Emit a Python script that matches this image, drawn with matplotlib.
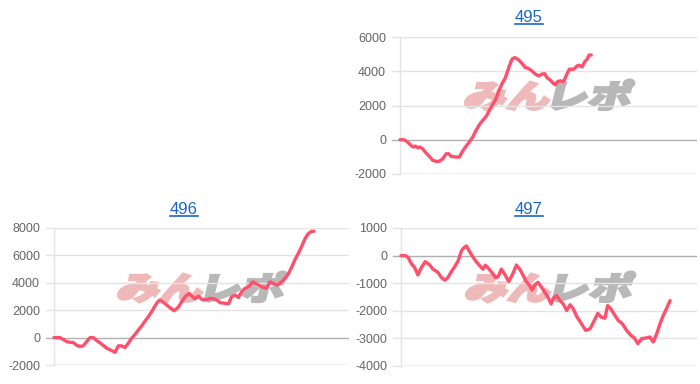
import matplotlib
matplotlib.use("Agg")
import matplotlib.pyplot as plt
from matplotlib.textpath import TextPath
from matplotlib.font_manager import FontProperties
from matplotlib.patches import PathPatch
from matplotlib.transforms import Affine2D, IdentityTransform
from matplotlib.lines import Line2D

# ---------------- data ----------------
titles = ["495", "496", "497"]

x_495 = [0.0, 1.4, 2.6, 3.7, 4.5, 5.2, 6.0, 6.7, 7.6, 8.8, 9.9, 11.0, 12.1, 13.2, 14.4,
         15.5, 16.4, 17.2, 18.9, 20.0, 21.1, 22.2, 23.3, 24.5, 25.6, 26.7, 27.8, 29.0,
         30.1, 31.2, 32.3, 33.2, 34.3, 35.5, 36.6, 37.7, 38.6, 39.7, 40.8, 42.2, 43.3,
         44.4, 45.6, 46.7, 47.8, 48.7, 49.5, 50.6, 51.7, 52.3, 53.1, 54.0, 55.1, 56.2,
         57.0, 58.5, 59.6, 60.4, 61.3, 62.2, 63.0, 63.7, 64.4]
y_495 = [0, 0, -136, -330, -430, -370, -470, -430, -520, -780, -970, -1200, -1260, -1260,
         -1110, -820, -820, -970, -1010, -1010, -660, -390, -140, 160, 540, 870, 1120,
         1360, 1710, 2060, 2390, 2820, 3250, 3630, 4210, 4700, 4800, 4700, 4510, 4220,
         4160, 4020, 3830, 3730, 3830, 3860, 3630, 3480, 3280, 3210, 3400, 3440, 3400,
         3830, 4120, 4120, 4310, 4350, 4250, 4560, 4700, 4950, 4950]

x_496 = [0.0, 2.0, 3.2, 4.3, 5.4, 6.5, 7.7, 8.8, 9.9, 11.1, 12.2, 13.3, 14.5, 16.2, 17.9,
         19.6, 20.7, 21.8, 22.9, 24.1, 25.2, 26.3, 27.5, 28.6, 29.7, 30.8, 32.0, 33.1,
         34.2, 35.2, 35.9, 37.1, 38.2, 39.3, 40.7, 42.1, 43.3, 44.4, 45.0, 45.9, 46.7,
         47.8, 48.9, 50.1, 51.2, 52.9, 54.0, 55.2, 56.3, 58.0, 59.1, 60.2, 61.4, 62.5,
         63.6, 64.7, 65.9, 67.4, 68.7, 70.4, 71.9, 73.2, 74.3, 75.7, 77.2, 78.3, 79.4,
         80.6, 81.7, 82.8, 84.0, 85.1, 86.2, 87.4, 88.1]
y_496 = [0, 0, -145, -290, -340, -360, -560, -650, -600, -290, 0, 0, -220, -480, -780,
         -950, -1070, -600, -600, -730, -410, -50, 240, 560, 850, 1190, 1530, 1890, 2300,
         2620, 2740, 2570, 2380, 2180, 1960, 2210, 2620, 2980, 3100, 3220, 3030, 2840,
         3030, 2790, 2740, 2860, 2840, 2740, 2550, 2500, 2450, 2980, 3100, 2930, 3350,
         3590, 3710, 4070, 3900, 3710, 3590, 4070, 3950, 3830, 4070, 4320, 4630, 5160,
         5700, 6140, 6670, 7230, 7590, 7760, 7760]

x_497 = [0.0, 1.5, 2.4, 3.5, 4.6, 5.7, 6.9, 8.2, 9.7, 10.8, 12.5, 13.6, 14.8, 15.9, 17.0,
         18.1, 19.3, 20.4, 21.3, 22.1, 23.2, 24.3, 25.4, 26.6, 27.7, 28.5, 29.6, 30.7,
         31.9, 32.8, 33.9, 35.0, 36.4, 37.8, 39.0, 40.1, 41.2, 42.3, 43.5, 44.3, 45.2,
         46.3, 47.5, 48.6, 49.8, 50.7, 51.5, 52.6, 53.7, 54.8, 56.0, 57.1, 58.2, 59.4,
         61.0, 62.4, 63.9, 65.3, 66.5, 67.6, 68.9, 69.8, 70.9, 72.3, 73.4, 74.8, 76.2,
         77.7, 78.8, 80.0, 81.3, 83.0, 84.1, 85.2, 86.4, 87.5, 88.6, 89.8, 90.9]
y_497 = [0, 0, -70, -290, -430, -700, -430, -220, -340, -490, -610, -790, -890, -790,
         -580, -410, -190, 170, 290, 350, 140, -50, -220, -370, -490, -350, -470, -610,
         -790, -770, -490, -670, -940, -650, -340, -490, -700, -940, -1090, -1250, -1060,
         -970, -1150, -1330, -1540, -1750, -1540, -1450, -1630, -1750, -1990,
         -1780, -1930, -2210, -2470, -2710, -2650, -2350, -2090, -2230, -2270, -1810,
         -1930, -2170, -2350, -2470, -2710, -2890, -2980, -3190, -3010, -2980, -2950,
         -3130, -2830, -2470, -2170, -1900, -1630]

yticks_495 = [-2000, 0, 2000, 4000, 6000]
yticks_496 = [-2000, 0, 2000, 4000, 6000, 8000]
yticks_497 = [-4000, -3000, -2000, -1000, 0, 1000]

# ---------------- style ----------------
W, H = 700, 384
DPI = 100
LINE_COLOR = "#ff4f6b"
GRID = "#e4e4e4"
ZERO = "#b0b0b0"
TICK_TXT = "#666666"
LINK = "#1a66cc"
plt.rcParams["font.family"] = ["Liberation Sans", "DejaVu Sans"]

fig = plt.figure(figsize=(W / DPI, H / DPI), dpi=DPI)


def px_axes(x0, x1, ytop, ybot):
    return fig.add_axes([x0 / W, 1 - ybot / H, (x1 - x0) / W, (ybot - ytop) / H])


panels = [
    dict(ax=px_axes(400, 697, 37, 174), x=x_495, y=y_495, ticks=yticks_495,
         title=titles[0], tx=529, ty=18),
    dict(ax=px_axes(54, 349, 228, 365), x=x_496, y=y_496, ticks=yticks_496,
         title=titles[1], tx=184, ty=210),
    dict(ax=px_axes(401, 697, 228, 366), x=x_497, y=y_497, ticks=yticks_497,
         title=titles[2], tx=529, ty=210),
]

jp = FontProperties(family="Noto Sans CJK JP", weight="heavy")


def watermark(cx, cy):
    # cx, cy in pixel coords from top-left
    size = 32
    p1 = TextPath((0, 0), "みん", size=size, prop=jp)
    p2 = TextPath((0, 0), "レポ", size=size, prop=jp)
    e1 = p1.get_extents()
    e2 = p2.get_extents()
    sx, sy = 1.35, 1.0
    gap = 3
    total = (e1.width + e2.width + gap) * sx
    x0 = cx - total / 2 - e1.x0 * sx
    yb = H - cy - (e1.y0 + e1.height / 2) * sy
    t1 = (Affine2D().scale(sx, sy).skew_deg(14, 0).translate(x0, yb)
          + IdentityTransform())
    t2 = (Affine2D().translate(-e2.x0, 0).scale(sx, sy).skew_deg(14, 0)
          .translate(x0 + e1.x0 * sx + (e1.width + gap) * sx, yb) + IdentityTransform())
    a = PathPatch(p1, facecolor="#f0b9b9", edgecolor="#f0b9b9", lw=1.8,
                  transform=t1, zorder=1)
    b = PathPatch(p2, facecolor="#b8b8b8", edgecolor="#b8b8b8", lw=1.8,
                  transform=t2, zorder=1)
    fig.add_artist(a)
    fig.add_artist(b)


watermark(546, 96)
watermark(199, 288)
watermark(547, 288)

for p in panels:
    ax = p["ax"]
    ax.set_facecolor("none")
    ax.set_zorder(3)
    ax.plot(p["x"], p["y"], color=LINE_COLOR, lw=2.4, solid_joinstyle="round",
            solid_capstyle="round", zorder=5, clip_on=False)
    ax.set_xlim(0, 100)
    ax.set_ylim(p["ticks"][0], p["ticks"][-1])
    ax.set_yticks(p["ticks"])
    ax.set_yticklabels([str(t) for t in p["ticks"]])
    ax.set_xticks([])
    for t in p["ticks"]:
        col = ZERO if t == 0 else GRID
        ax.axhline(t, color=col, lw=1, zorder=0)
        ax.plot([-8 / 2.96, 0], [t, t], color=col, lw=1, clip_on=False, zorder=0)
    for s in ["top", "right", "bottom"]:
        ax.spines[s].set_visible(False)
    ax.spines["left"].set_color(GRID)
    ax.spines["left"].set_linewidth(1)
    ax.tick_params(axis="y", length=0, pad=10, labelsize=9, labelcolor=TICK_TXT)
    ax.axhline(p["ticks"][0], color="#d0d0d0", lw=1, zorder=0)

    txt = fig.text(p["tx"] / W, 1 - p["ty"] / H, p["title"], color=LINK, fontsize=12,
                   ha="center", va="center")
    p["txt"] = txt

fig.canvas.draw()
renderer = fig.canvas.get_renderer()
for p in panels:
    bb = p["txt"].get_window_extent(renderer)
    yline = bb.y0 + 1.5
    fig.add_artist(Line2D([bb.x0 / W, bb.x1 / W], [yline / H, yline / H], color=LINK,
                          lw=1.2, transform=fig.transFigure))

fig.savefig("out.png", dpi=DPI)
